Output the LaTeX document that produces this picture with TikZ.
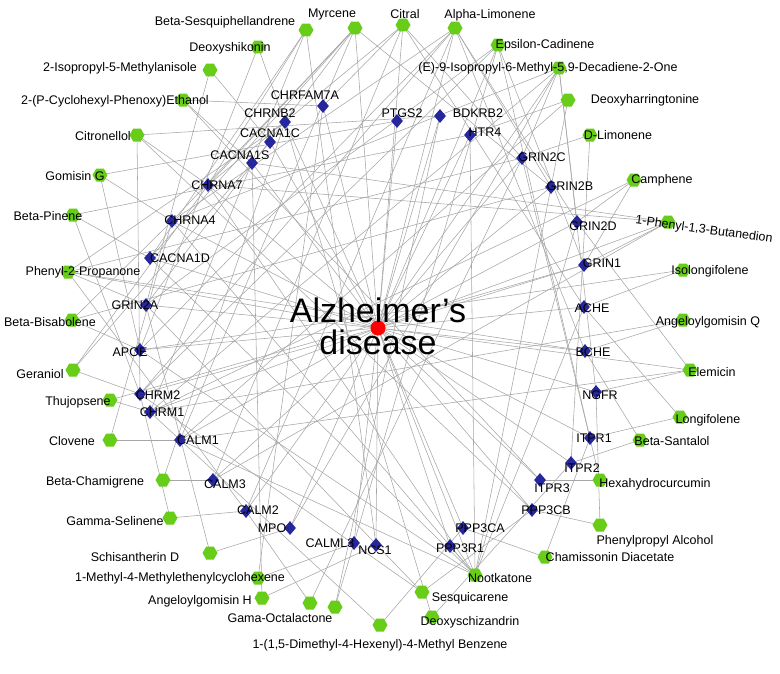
\documentclass[tikz,border=0pt]{standalone}
\usepackage{fontspec}
\setmainfont{Liberation Sans}
\usetikzlibrary{shapes.geometric}
\begin{document}
\begin{tikzpicture}[x=1pt,y=-1pt,
 tg/.style={diamond,fill=blue!55!black!85,draw=none,inner sep=0pt,minimum width=12pt,minimum height=14pt},
 cp/.style={regular polygon,regular polygon sides=6,fill=green!60!black!55!lime!90!white,draw=none,inner sep=0pt,minimum size=15pt},
 lab/.style={font=\fontsize{12.5}{14}\selectfont,inner sep=0pt},
 ed/.style={draw=gray!70,line width=0.55pt}]
\useasboundingbox (0,0) rectangle (780,673);
\foreach \n/\x/\y in {CHRFAM7A/323/106,PTGS2/397/121,BDKRB2/440/116,CHRNB2/285/122,CACNA1C/270/142,CACNA1S/252/163,HTR4/470/135,GRIN2C/522/158,CHRNA7/208/185,GRIN2B/551/187,CHRNA4/172/221,GRIN2D/577/222,CACNA1D/150/258,GRIN1/584/265,GRIN2A/146/305,ACHE/584/307,APOE/140/350,BCHE/585/351,CHRM2/140/394,NGFR/596/392,CHRM1/150/412,ITPR1/590/438,CALM1/180/440,ITPR2/571/463,CALM3/213/480,ITPR3/540/480,CALM2/246/511,PPP3CB/532/510,MPO/290/528,PPP3CA/463/528,CALML3/354/543,PPP3R1/450/546,NCS1/376/545}
 \coordinate (\n) at (\x,\y);
\foreach \n/\x/\y in {c1/355/28,c2/403/25,c3/455/28,c4/306/30,c5/498/45,c6/258/47,c7/559/68,c8/210/70,c9/183/100,c10/568/100,c11/137/135,c12/590/135,c13/100/175,c14/634/180,c15/73/215,c16/668/222,c17/68/272,c18/683/270,c19/72/320,c20/683/320,c21/73/370,c22/690/370,c23/110/400,c24/680/417,c25/110/440,c26/640/440,c27/163/480,c28/600/480,c29/170/518,c30/600/525,c31/210/553,c32/545/557,c33/258/578,c34/475/575,c35/262/598,c36/422/592,c37/310/603,c38/432/617,c39/380/625,c40/335/607}
 \coordinate (\n) at (\x,\y);
\coordinate (AD) at (378,328);
\foreach \t in {CHRFAM7A,PTGS2,BDKRB2,CHRNB2,CACNA1C,CACNA1S,HTR4,GRIN2C,CHRNA7,GRIN2B,CHRNA4,GRIN2D,CACNA1D,GRIN1,GRIN2A,ACHE,APOE,BCHE,CHRM2,NGFR,CHRM1,ITPR1,CALM1,ITPR2,CALM3,ITPR3,CALM2,PPP3CB,MPO,PPP3CA,CALML3,PPP3R1,NCS1}
 \draw[ed] (\t) -- (AD);
\foreach \c/\t in {c1/CHRNA7,c1/CHRNA4,c1/GRIN2A,c1/CACNA1D,c1/CALM1,c1/GRIN2B,c2/CHRFAM7A,c2/GRIN2C,c2/CHRNA7,c2/ACHE,c2/CALM3,c3/GRIN2D,c3/CHRNA4,c3/APOE,c3/CHRM2,c3/CALM2,c3/GRIN2B,c3/BCHE,c4/CHRNA7,c4/CACNA1D,c4/CHRM1,c4/NCS1,c5/GRIN1,c5/GRIN2A,c5/CHRM2,c5/ITPR1,c5/CALML3,c6/CHRNB2,c6/APOE,c7/GRIN2C,c7/GRIN2D,c7/CHRNA4,c7/CHRM1,c7/NGFR,c7/MPO,c8/CACNA1C,c8/GRIN2A,c9/CACNA1S,c9/CHRFAM7A,c9/ITPR3,c10/HTR4,c10/GRIN2B,c10/CALM1,c11/CHRNA7,c11/CHRM2,c11/PPP3CB,c11/BDKRB2,c12/GRIN2C,c12/ITPR2,c13/CHRNA4,c13/APOE,c13/PTGS2,c14/GRIN2D,c14/CHRM1,c14/GRIN1,c15/CACNA1D,c15/CHRM2,c15/HTR4,c16/GRIN1,c16/CALM3,c16/CACNA1S,c16/CHRNA7,c17/GRIN2A,c17/CHRNB2,c17/GRIN2C,c17/BCHE,c17/CALM2,c18/ACHE,c18/APOE,c19/APOE,c19/CHRNA4,c19/GRIN2B,c20/BCHE,c20/CHRM1,c21/CHRM2,c21/CACNA1C,c21/CHRNA7,c22/NGFR,c22/GRIN2D,c22/CALM1,c23/CHRM1,c23/GRIN1,c24/ITPR1,c24/ACHE,c25/CALM1,c25/CHRNA4,c26/ITPR2,c26/BCHE,c27/CALM3,c27/CHRNB2,c28/ITPR3,c28/GRIN2C,c29/CALM2,c29/CHRM2,c30/PPP3CB,c30/NGFR,c31/MPO,c31/GRIN2A,c32/PPP3CA,c32/ITPR1,c33/CALML3,c33/CHRFAM7A,c34/PPP3R1,c34/GRIN2B,c34/GRIN2D,c34/CHRNA7,c34/CHRNA4,c34/APOE,c34/CALM1,c34/HTR4,c34/ACHE,c34/CACNA1D,c35/NCS1,c35/CACNA1S,c36/PPP3CB,c36/GRIN2A,c36/CHRM2,c37/CALM2,c37/GRIN2C,c38/ITPR2,c38/CHRNB2,c39/PPP3CA,c39/CHRM1,c40/CALML3,c40/BDKRB2}
 \draw[ed] (\c) -- (\t);
\foreach \c in {c1,c2,c3,c5,c7,c17,c34,c16,c22}
 \draw[ed] (\c) -- (AD);
\foreach \t in {CHRFAM7A,PTGS2,BDKRB2,CHRNB2,CACNA1C,CACNA1S,HTR4,GRIN2C,CHRNA7,GRIN2B,CHRNA4,GRIN2D,CACNA1D,GRIN1,GRIN2A,ACHE,APOE,BCHE,CHRM2,NGFR,CHRM1,ITPR1,CALM1,ITPR2,CALM3,ITPR3,CALM2,PPP3CB,MPO,PPP3CA,CALML3,PPP3R1,NCS1}
 \node[tg] (n\t) at (\t) {};
\foreach \c in {c1,c2,c3,c4,c5,c6,c7,c8,c9,c10,c11,c12,c13,c14,c15,c16,c17,c18,c19,c20,c21,c22,c23,c24,c25,c26,c27,c28,c29,c30,c31,c32,c33,c34,c35,c36,c37,c38,c39,c40}
 \node[cp] (n\c) at (\c) {};
\node[circle,fill=red,inner sep=0pt,minimum size=15pt] (nAD) at (AD) {};
\node[font=\fontsize{34}{32}\selectfont,align=center,inner sep=0pt] (tAD) at (378,326) {Alzheimer{\char"27}s\\disease};
\foreach \t/\x/\y in {CHRFAM7A/305/95,PTGS2/402/113,BDKRB2/478/113,CHRNB2/270/113,CACNA1C/270/133,CACNA1S/240/155,HTR4/485/132,GRIN2C/542/157,CHRNA7/217/185,GRIN2B/570/186,CHRNA4/190/220,GRIN2D/593/226,CACNA1D/180/258,GRIN1/602/263,GRIN2A/135/305,ACHE/592/308,APOE/130/352,BCHE/593/352,CHRM2/158/395,NGFR/600/395,CHRM1/162/412,ITPR1/594/438,CALM1/198/440,ITPR2/582/468,CALM3/225/484,ITPR3/552/488,CALM2/258/510,PPP3CB/546/510,MPO/272/528,PPP3CA/480/528,CALML3/330/543,PPP3R1/460/548,NCS1/375/550}
 \node[lab] (l\t) at (\x,\y) {\t};
\foreach \c/\x/\y/\s in {c1/332/14/Myrcene,c2/405/14/Citral,c3/490/15/Alpha-Limonene,c4/225/22/Beta-Sesquiphellandrene,c5/545/45/Epsilon-Cadinene,c6/230/48/Deoxyshikonin,c7/548/68/(E)-9-Isopropyl-6-Methyl-5{,}9-Decadiene-2-One,c8/120/68/2-Isopropyl-5-Methylanisole,c9/115/101/2-(P-Cyclohexyl-Phenoxy)Ethanol,c10/645/100/Deoxyharringtonine,c11/103/136/Citronellol,c12/618/135/D-Limonene,c13/75/176/Gomisin G,c14/662/180/Camphene,c15/48/216/Beta-Pinene,c17/83/272/Phenyl-2-Propanone,c18/710/271/Isolongifolene,c19/50/322/Beta-Bisabolene,c20/708/322/Angeloylgomisin Q,c21/40/374/Geraniol,c22/712/372/Elemicin,c23/78/402/Thujopsene,c24/708/420/Longifolene,c25/72/441/Clovene,c26/672/441/Beta-Santalol,c27/95/482/Beta-Chamigrene,c28/655/484/Hexahydrocurcumin,c29/115/521/Gamma-Selinene,c30/655/541/Phenylpropyl Alcohol,c31/135/557/Schisantherin D,c32/610/557/Chamissonin Diacetate,c33/180/578/1-Methyl-4-Methylethenylcyclohexene,c34/500/578/Nootkatone,c35/200/601/Angeloylgomisin H,c36/470/598/Sesquicarene,c37/280/618/Gama-Octalactone,c38/470/622/Deoxyschizandrin,c39/380/645/1-(1{,}5-Dimethyl-4-Hexenyl)-4-Methyl Benzene}
 \node[lab] (l\c) at (\x,\y) {\s};
\node[lab,rotate=-8] (lc16) at (704,230) {1-Phenyl-1,3-Butanedion};
\end{tikzpicture}
\end{document}
